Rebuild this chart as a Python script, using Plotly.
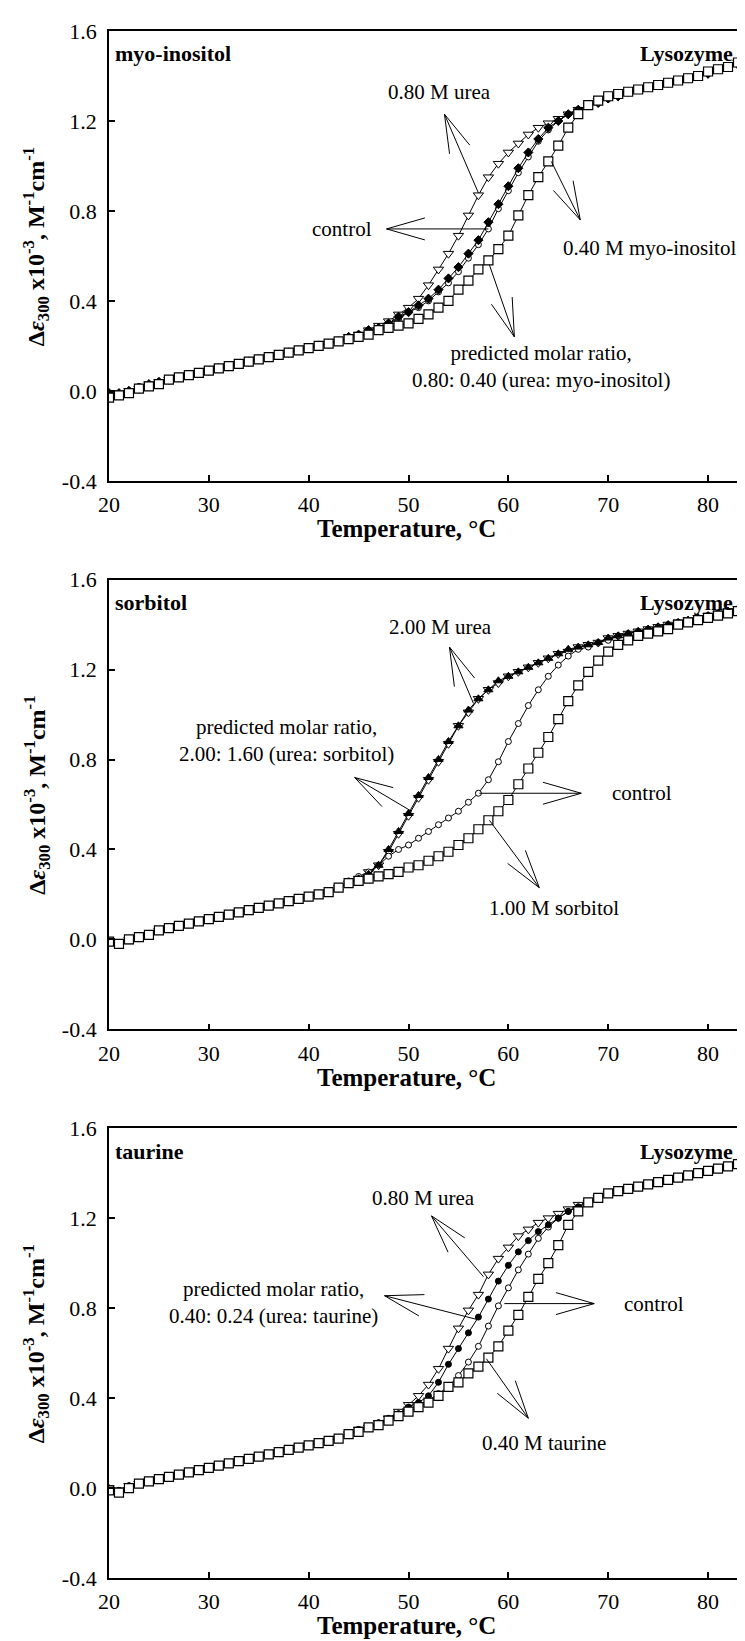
import math
import plotly.graph_objects as go

TEMP = [20, 21, 22, 23, 24, 25, 26, 27, 28, 29, 30, 31, 32, 33, 34, 35, 36, 37, 38, 39,
        40, 41, 42, 43, 44, 45, 46, 47, 48, 49, 50, 51, 52, 53, 54, 55, 56, 57, 58, 59,
        60, 61, 62, 63, 64, 65, 66, 67, 68, 69, 70, 71, 72, 73, 74, 75, 76, 77, 78, 79,
        80, 81, 82, 83]

# ---- panel 1: myo-inositol ----
P1_UREA = [-0.02, -0.01, 0.00, 0.01, 0.03, 0.04, 0.05, 0.06, 0.07, 0.08, 0.09, 0.10, 0.11, 0.12, 0.13, 0.14, 0.15, 0.16, 0.17, 0.18,
           0.19, 0.20, 0.21, 0.22, 0.24, 0.25, 0.27, 0.29, 0.31, 0.34, 0.37, 0.41, 0.47, 0.54, 0.61, 0.69, 0.78, 0.87, 0.95, 1.01,
           1.06, 1.10, 1.14, 1.17, 1.19, 1.21, 1.23, 1.25, 1.27, 1.29, 1.30, 1.31, 1.33, 1.34, 1.35, 1.36, 1.37, 1.38, 1.39, 1.40,
           1.41, 1.43, 1.44, 1.46]
P1_CONTROL = [-0.02, -0.01, 0.00, 0.02, 0.03, 0.04, 0.05, 0.06, 0.07, 0.08, 0.09, 0.10, 0.11, 0.12, 0.13, 0.14, 0.15, 0.16, 0.17, 0.18,
              0.19, 0.20, 0.21, 0.22, 0.24, 0.25, 0.27, 0.28, 0.30, 0.32, 0.35, 0.37, 0.40, 0.44, 0.48, 0.53, 0.59, 0.65, 0.72, 0.81,
              0.89, 0.97, 1.04, 1.11, 1.16, 1.20, 1.23, 1.25, 1.27, 1.29, 1.30, 1.32, 1.33, 1.34, 1.35, 1.36, 1.37, 1.38, 1.39, 1.40,
              1.42, 1.43, 1.44, 1.46]
P1_PREDICTED = [-0.01, -0.01, 0.00, 0.01, 0.03, 0.04, 0.05, 0.06, 0.07, 0.08, 0.09, 0.10, 0.11, 0.12, 0.13, 0.14, 0.15, 0.16, 0.17, 0.18,
                0.19, 0.20, 0.21, 0.22, 0.24, 0.25, 0.27, 0.28, 0.30, 0.33, 0.35, 0.38, 0.41, 0.45, 0.50, 0.55, 0.61, 0.67, 0.75, 0.83,
                0.91, 0.99, 1.06, 1.12, 1.17, 1.20, 1.23, 1.25, 1.27, 1.28, 1.30, 1.31, 1.33, 1.34, 1.35, 1.36, 1.37, 1.38, 1.39, 1.40,
                1.41, 1.43, 1.44, 1.45]
P1_OSMOLYTE = [-0.03, -0.02, -0.01, 0.01, 0.02, 0.03, 0.05, 0.06, 0.07, 0.08, 0.09, 0.10, 0.11, 0.12, 0.13, 0.14, 0.15, 0.16, 0.17, 0.18,
               0.19, 0.20, 0.21, 0.22, 0.23, 0.24, 0.25, 0.27, 0.28, 0.29, 0.30, 0.32, 0.34, 0.37, 0.40, 0.45, 0.49, 0.54, 0.58, 0.63,
               0.69, 0.78, 0.87, 0.95, 1.02, 1.09, 1.17, 1.23, 1.27, 1.29, 1.31, 1.32, 1.33, 1.34, 1.35, 1.36, 1.37, 1.38, 1.39, 1.40,
               1.42, 1.43, 1.44, 1.46]

# ---- panel 2: sorbitol ----
P2_UREA = [-0.01, -0.02, 0.00, 0.01, 0.02, 0.04, 0.05, 0.06, 0.07, 0.08, 0.09, 0.10, 0.11, 0.12, 0.13, 0.14, 0.15, 0.16, 0.17, 0.18,
           0.19, 0.20, 0.21, 0.23, 0.25, 0.27, 0.30, 0.33, 0.39, 0.47, 0.55, 0.63, 0.71, 0.79, 0.87, 0.95, 1.01, 1.07, 1.11, 1.14,
           1.17, 1.19, 1.21, 1.23, 1.25, 1.27, 1.28, 1.30, 1.31, 1.32, 1.34, 1.35, 1.36, 1.37, 1.38, 1.39, 1.40, 1.41, 1.42, 1.43,
           1.44, 1.45, 1.46, 1.47]
P2_CONTROL = [-0.01, -0.02, 0.00, 0.01, 0.02, 0.04, 0.05, 0.06, 0.07, 0.08, 0.09, 0.10, 0.11, 0.12, 0.13, 0.14, 0.15, 0.16, 0.17, 0.18,
              0.19, 0.20, 0.21, 0.23, 0.26, 0.28, 0.30, 0.33, 0.37, 0.40, 0.42, 0.45, 0.48, 0.51, 0.54, 0.57, 0.61, 0.65, 0.71, 0.79,
              0.88, 0.96, 1.04, 1.11, 1.17, 1.22, 1.26, 1.29, 1.30, 1.32, 1.33, 1.35, 1.36, 1.37, 1.38, 1.39, 1.40, 1.41, 1.42, 1.43,
              1.44, 1.45, 1.46, 1.47]
P2_PREDICTED = [-0.01, -0.02, -0.01, 0.01, 0.02, 0.04, 0.05, 0.06, 0.07, 0.08, 0.09, 0.10, 0.11, 0.12, 0.13, 0.14, 0.15, 0.16, 0.17, 0.18,
                0.19, 0.20, 0.21, 0.23, 0.25, 0.27, 0.29, 0.33, 0.40, 0.48, 0.56, 0.64, 0.72, 0.80, 0.88, 0.95, 1.02, 1.07, 1.11, 1.15,
                1.17, 1.19, 1.21, 1.23, 1.25, 1.27, 1.29, 1.30, 1.31, 1.32, 1.34, 1.35, 1.36, 1.37, 1.38, 1.39, 1.40, 1.41, 1.42, 1.43,
                1.44, 1.45, 1.46, 1.47]
P2_OSMOLYTE = [-0.01, -0.02, 0.00, 0.01, 0.02, 0.04, 0.05, 0.06, 0.07, 0.08, 0.09, 0.10, 0.11, 0.12, 0.13, 0.14, 0.15, 0.16, 0.17, 0.18,
               0.19, 0.20, 0.21, 0.23, 0.25, 0.26, 0.27, 0.28, 0.29, 0.30, 0.32, 0.33, 0.35, 0.37, 0.39, 0.42, 0.45, 0.49, 0.53, 0.57,
               0.62, 0.69, 0.76, 0.83, 0.90, 0.98, 1.06, 1.13, 1.19, 1.24, 1.28, 1.31, 1.33, 1.35, 1.36, 1.37, 1.38, 1.40, 1.41, 1.42,
               1.43, 1.44, 1.45, 1.46]

# ---- panel 3: taurine ----
P3_UREA = [0.00, -0.01, 0.01, 0.02, 0.03, 0.04, 0.05, 0.06, 0.07, 0.08, 0.09, 0.10, 0.11, 0.12, 0.13, 0.14, 0.15, 0.16, 0.17, 0.18,
           0.19, 0.20, 0.21, 0.22, 0.24, 0.26, 0.27, 0.29, 0.31, 0.34, 0.37, 0.41, 0.46, 0.53, 0.62, 0.71, 0.79, 0.86, 0.95, 1.02,
           1.07, 1.12, 1.15, 1.18, 1.20, 1.22, 1.24, 1.26, 1.27, 1.29, 1.31, 1.32, 1.33, 1.34, 1.35, 1.36, 1.37, 1.38, 1.39, 1.40,
           1.41, 1.42, 1.43, 1.44]
P3_CONTROL = [0.00, -0.01, 0.01, 0.02, 0.03, 0.04, 0.05, 0.06, 0.07, 0.08, 0.09, 0.10, 0.11, 0.12, 0.13, 0.14, 0.15, 0.16, 0.17, 0.18,
              0.19, 0.20, 0.21, 0.22, 0.24, 0.26, 0.27, 0.29, 0.30, 0.33, 0.35, 0.37, 0.39, 0.42, 0.45, 0.50, 0.56, 0.63, 0.72, 0.81,
              0.89, 0.97, 1.04, 1.11, 1.16, 1.20, 1.23, 1.25, 1.27, 1.29, 1.31, 1.32, 1.33, 1.34, 1.35, 1.36, 1.37, 1.38, 1.39, 1.40,
              1.41, 1.42, 1.43, 1.44]
P3_PREDICTED = [0.00, -0.01, 0.01, 0.02, 0.03, 0.04, 0.05, 0.06, 0.07, 0.08, 0.09, 0.10, 0.11, 0.12, 0.13, 0.14, 0.15, 0.16, 0.17, 0.18,
                0.19, 0.20, 0.21, 0.22, 0.24, 0.26, 0.27, 0.29, 0.31, 0.33, 0.36, 0.38, 0.41, 0.47, 0.55, 0.62, 0.69, 0.76, 0.84, 0.92,
                0.99, 1.05, 1.10, 1.14, 1.17, 1.20, 1.23, 1.25, 1.27, 1.29, 1.31, 1.32, 1.33, 1.34, 1.35, 1.36, 1.37, 1.38, 1.39, 1.40,
                1.41, 1.42, 1.43, 1.44]
P3_OSMOLYTE = [-0.01, -0.02, 0.00, 0.02, 0.03, 0.04, 0.05, 0.06, 0.07, 0.08, 0.09, 0.10, 0.11, 0.12, 0.13, 0.14, 0.15, 0.16, 0.17, 0.18,
               0.19, 0.20, 0.21, 0.22, 0.24, 0.25, 0.27, 0.28, 0.30, 0.32, 0.34, 0.36, 0.38, 0.41, 0.45, 0.47, 0.51, 0.54, 0.58, 0.63,
               0.70, 0.77, 0.85, 0.93, 1.00, 1.08, 1.17, 1.23, 1.27, 1.29, 1.31, 1.32, 1.33, 1.34, 1.35, 1.36, 1.37, 1.38, 1.39, 1.40,
               1.41, 1.42, 1.43, 1.44]

X_TICKS = [20, 30, 40, 50, 60, 70, 80]
Y_TICKS = [-0.4, 0.0, 0.4, 0.8, 1.2, 1.6]
Y_TICK_TEXT = ["-0.4", "0.0", "0.4", "0.8", "1.2", "1.6"]
X_RANGE = [20, 83.2]
Y_RANGE = [-0.4, 1.6]

PANEL_NAMES = ["myo-inositol", "sorbitol", "taurine"]
PROTEIN = "Lysozyme"
X_TITLE = "<b>Temperature, \u00b0C</b>"
Y_TITLE = "<b>\u0394<i>\u03b5</i><sub>300</sub> x10<sup>-3</sup>, M<sup>-1</sup>cm<sup>-1</sup></b>"

SERIES = [
    (P1_UREA, P1_CONTROL, P1_PREDICTED, P1_OSMOLYTE),
    (P2_UREA, P2_CONTROL, P2_PREDICTED, P2_OSMOLYTE),
    (P3_UREA, P3_CONTROL, P3_PREDICTED, P3_OSMOLYTE),
]

# label text, x, y (data units), xanchor
LABELS = [
    [("0.80 M urea", 53.1, 1.33, "center"),
     ("control", 43.3, 0.72, "center"),
     ("0.40 M myo-inositol", 83.0, 0.635, "right"),
     ("predicted molar ratio,<br>0.80: 0.40 (urea: myo-inositol)", 63.3, 0.11, "center")],
    [("2.00 M urea", 53.2, 1.39, "center"),
     ("predicted molar ratio,<br>2.00: 1.60 (urea: sorbitol)", 37.8, 0.886, "center"),
     ("control", 73.4, 0.65, "center"),
     ("1.00 M sorbitol", 64.6, 0.14, "center")],
    [("0.80 M urea", 51.5, 1.29, "center"),
     ("predicted molar ratio,<br>0.40: 0.24 (urea: taurine)", 36.5, 0.826, "center"),
     ("control", 74.6, 0.82, "center"),
     ("0.40 M taurine", 63.6, 0.20, "center")],
]
# arrows: (tip, tail) in data units; the open head sits at the tip (label side)
ARROWS = [
    [((53.6, 1.23), (57.0, 0.88)),
     ((47.8, 0.72), (58.0, 0.72)),
     ((67.2, 0.76), (64.3, 1.02)),
     ((60.6, 0.24), (58.1, 0.56))],
    [((54.1, 1.30), (56.5, 1.05)),
     ((44.6, 0.72), (50.3, 0.57)),
     ((67.3, 0.65), (57.1, 0.65)),
     ((63.1, 0.23), (58.1, 0.53))],
    [((52.3, 1.21), (57.5, 0.94)),
     ((47.6, 0.855), (56.8, 0.75)),
     ((68.6, 0.82), (59.6, 0.82)),
     ((62.0, 0.31), (57.8, 0.575))],
]

W, H = 745, 1641
ML, MR, MT, MB = 101, 11, 19, 71
PLOT_H_PX = 451
DOMAINS = []
for top_px in (19, 569, 1119):
    bot = (H - (top_px + PLOT_H_PX) - MB) / (H - MT - MB)
    top = (H - top_px - MB) / (H - MT - MB)
    DOMAINS.append([max(0.0, bot), min(1.0, top)])

PX_X = (W - ML - MR) / (X_RANGE[1] - X_RANGE[0])
PX_Y = PLOT_H_PX / (Y_RANGE[1] - Y_RANGE[0])

FONT = "Liberation Serif"
LABEL_SIZE = 21

fig = go.Figure()
MARKERS = [
    [dict(symbol="triangle-down", size=9, color="white", line=dict(color="black", width=1)),
     dict(symbol="circle", size=6, color="white", line=dict(color="black", width=1)),
     dict(symbol="diamond", size=7, color="black", line=dict(color="black", width=1)),
     dict(symbol="square", size=9, color="white", line=dict(color="black", width=1.2))],
    [dict(symbol="triangle-down", size=9, color="white", line=dict(color="black", width=1)),
     dict(symbol="circle", size=6, color="white", line=dict(color="black", width=1)),
     dict(symbol="triangle-up", size=8, color="black", line=dict(color="black", width=1)),
     dict(symbol="square", size=9, color="white", line=dict(color="black", width=1.2))],
    [dict(symbol="triangle-down", size=9, color="white", line=dict(color="black", width=1)),
     dict(symbol="circle", size=6, color="white", line=dict(color="black", width=1)),
     dict(symbol="circle", size=6, color="black", line=dict(color="black", width=1)),
     dict(symbol="square", size=9, color="white", line=dict(color="black", width=1.2))],
]
names = ["urea", "control", "predicted", "osmolyte"]

annotations = []
shapes = []
for i in range(3):
    xr = "x" if i == 0 else f"x{i+1}"
    yr = "y" if i == 0 else f"y{i+1}"
    for vals, st, nm in zip(SERIES[i], MARKERS[i], names):
        fig.add_trace(go.Scatter(x=TEMP, y=vals, mode="lines+markers", xaxis=xr, yaxis=yr,
                                 line=dict(color="black", width=1), marker=st, name=nm,
                                 showlegend=False))
    annotations.append(dict(x=4 / 633, y=1 - 23 / 451, xref=f"{xr} domain", yref=f"{yr} domain",
                            text=f"<b>{PANEL_NAMES[i]}</b>", showarrow=False, xanchor="left",
                            yanchor="middle", font=dict(family=FONT, size=22, color="black")))
    annotations.append(dict(x=1 - 5 / 633, y=1 - 23 / 451, xref=f"{xr} domain", yref=f"{yr} domain",
                            text=f"<b>{PROTEIN}</b>", showarrow=False, xanchor="right",
                            yanchor="middle", font=dict(family=FONT, size=22, color="black")))
    # axis titles
    annotations.append(dict(x=49.8, y=-48 / 451, xref=xr, yref=f"{yr} domain", text=X_TITLE,
                            showarrow=False, xanchor="center", yanchor="middle",
                            font=dict(family=FONT, size=25, color="black")))
    annotations.append(dict(x=-73 / 633, y=0.64, xref=f"{xr} domain", yref=yr, text=Y_TITLE,
                            textangle=-90, showarrow=False, xanchor="center", yanchor="middle",
                            font=dict(family=FONT, size=24, color="black")))
    for txt, lx, ly, anc in LABELS[i]:
        annotations.append(dict(x=lx, y=ly, xref=xr, yref=yr, text=txt, showarrow=False,
                                xanchor=anc, yanchor="middle",
                                font=dict(family=FONT, size=LABEL_SIZE, color="black")))
    for tip, tail in ARROWS[i]:
        shapes.append(dict(type="line", xref=xr, yref=yr, x0=tail[0], y0=tail[1], x1=tip[0], y1=tip[1],
                           line=dict(color="black", width=1)))
        dxs = (tail[0] - tip[0]) * PX_X
        dys = (tail[1] - tip[1]) * PX_Y
        L = math.hypot(dxs, dys)
        ux, uy = dxs / L, dys / L
        for sgn in (1, -1):
            a = math.radians(16) * sgn
            rx = ux * math.cos(a) - uy * math.sin(a)
            ry = ux * math.sin(a) + uy * math.cos(a)
            shapes.append(dict(type="line", xref=xr, yref=yr, x0=tip[0], y0=tip[1],
                               x1=tip[0] + rx * 40 / PX_X, y1=tip[1] + ry * 40 / PX_Y,
                               line=dict(color="black", width=1)))

layout = dict(width=W, height=H, margin=dict(l=ML, r=MR, t=MT, b=MB),
              paper_bgcolor="white", plot_bgcolor="white", showlegend=False,
              annotations=annotations, shapes=shapes, font=dict(family=FONT, color="black"))
for i in range(3):
    xk = "xaxis" if i == 0 else f"xaxis{i+1}"
    yk = "yaxis" if i == 0 else f"yaxis{i+1}"
    ya = "y" if i == 0 else f"y{i+1}"
    xa = "x" if i == 0 else f"x{i+1}"
    layout[xk] = dict(domain=[0, 1], anchor=ya, range=X_RANGE, tickvals=X_TICKS,
                      ticks="inside", ticklen=6, tickcolor="black", tickwidth=1.5,
                      showline=True, linecolor="black", linewidth=1.8, mirror=True,
                      showgrid=False, zeroline=False, ticklabelstandoff=3,
                      tickfont=dict(family=FONT, size=22, color="black"))
    layout[yk] = dict(domain=DOMAINS[i], anchor=xa, range=Y_RANGE, tickvals=Y_TICKS,
                      ticktext=Y_TICK_TEXT, ticks="inside", ticklen=6, tickcolor="black",
                      tickwidth=1.5, showline=True, linecolor="black", linewidth=1.8, mirror=True,
                      showgrid=False, zeroline=False, ticklabelstandoff=6,
                      tickfont=dict(family=FONT, size=22, color="black"))
fig.update_layout(**layout)
fig.write_html("out.html")
